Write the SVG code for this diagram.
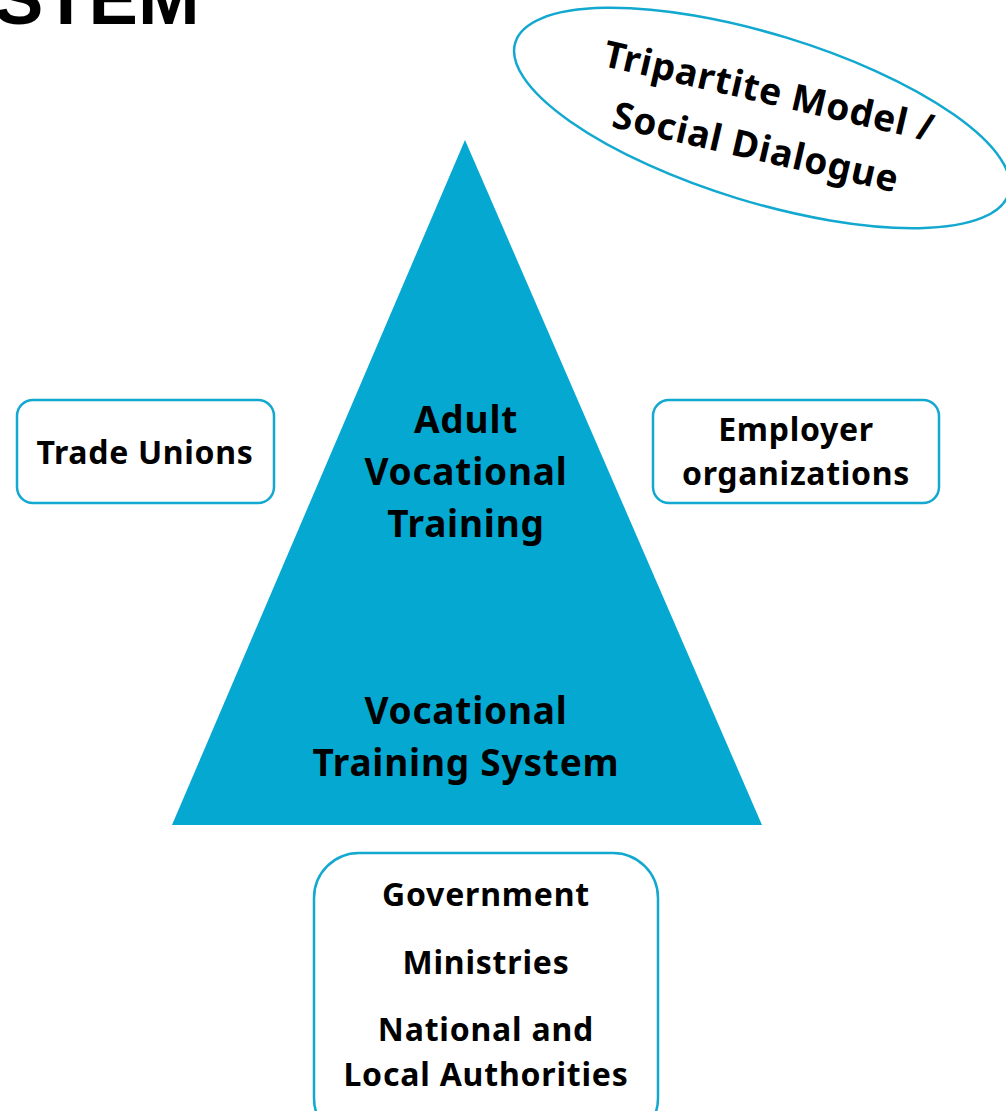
<svg xmlns="http://www.w3.org/2000/svg" width="1006" height="1111" viewBox="0 0 1006 1111">
<style>
.t{font-family:"Noto Sans","Liberation Sans",sans-serif;font-weight:bold;fill:#000;text-anchor:middle}
.box{fill:#fff;stroke:#12A8D0;stroke-width:2.5}
</style>
<rect width="1006" height="1111" fill="#fff"/>
<text x="-6" y="24" style="font-family:'Liberation Sans',sans-serif;font-weight:bold;font-size:74px" fill="#000">STEM</text>
<g id="ellipse">
<ellipse cx="762" cy="118" rx="258" ry="84" transform="rotate(17 762 118)" class="box"/>
<text class="t" font-size="37" letter-spacing="0.8" transform="translate(769,91) rotate(13)" x="0" y="13">Tripartite Model /</text>
<text class="t" font-size="37" letter-spacing="0.8" transform="translate(756,147) rotate(13)" x="0" y="13">Social Dialogue</text>
</g>
<g id="triangle">
<polygon points="465,140 172,825 762,825" fill="#04A8D0"/>
<text class="t" font-size="37" letter-spacing="0.8"><tspan x="466" y="433">Adult</tspan><tspan x="466" y="485">Vocational</tspan><tspan x="466" y="537">Training</tspan></text>
<text class="t" font-size="37" letter-spacing="0.8"><tspan x="466" y="724">Vocational</tspan><tspan x="466" y="776">Training System</tspan></text>
</g>
<g id="trade-unions">
<rect x="17" y="400" width="257" height="103" rx="16" class="box"/>
<text class="t" font-size="32" letter-spacing="0.7" x="145" y="464">Trade Unions</text>
</g>
<g id="employers">
<rect x="653" y="400" width="286" height="103" rx="16" class="box"/>
<text class="t" font-size="32" letter-spacing="0.7"><tspan x="796" y="441">Employer</tspan><tspan x="796" y="485">organizations</tspan></text>
</g>
<g id="government">
<rect x="314" y="853" width="344" height="290" rx="45" class="box"/>
<text class="t" font-size="32" letter-spacing="0.8"><tspan x="486" y="906">Government</tspan><tspan x="486" y="974">Ministries</tspan><tspan x="486" y="1041">National and</tspan><tspan x="486" y="1086">Local Authorities</tspan></text>
</g>
<g id="connectors"></g>
</svg>
